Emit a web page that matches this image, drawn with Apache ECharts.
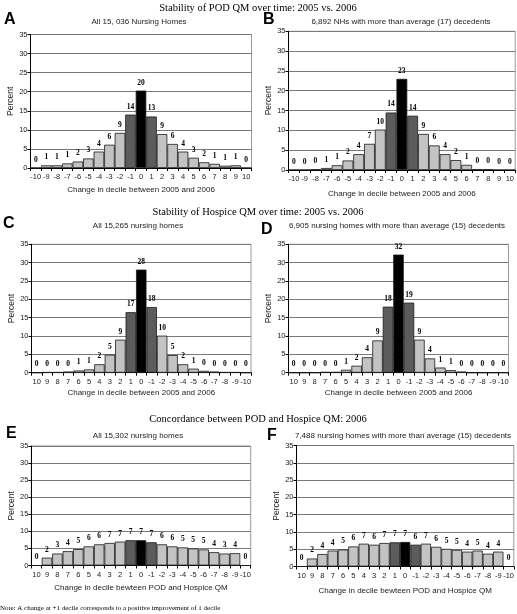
<!DOCTYPE html>
<html>
<head>
<meta charset="utf-8">
<script src="https://cdn.jsdelivr.net/npm/echarts@6/dist/echarts.min.js"></script>
<style>html,body{margin:0;padding:0;background:#fff}#c{width:517px;height:614px}</style>
</head>
<body>
<div id="c"></div>
<script>
// Categories
const catsPOD = ['-10','-9','-8','-7','-6','-5','-4','-3','-2','-1','0','1','2','3','4','5','6','7','8','9','10'];
const catsHosp = ['10','9','8','7','6','5','4','3','2','1','0','-1','-2','-3','-4','-5','-6','-7','-8','-9','-10'];

// Bar heights (percent)
const valsA = [0,0.7,0.7,1.2,1.7,2.5,4.3,6.1,9.2,14.0,20.3,13.5,8.9,6.3,4.3,2.7,1.5,1.1,0.6,0.7,0];
const valsB = [0,0,0.15,0.5,1.2,2.4,4.0,6.6,10.2,14.5,23.0,13.7,9.1,6.2,4.0,2.5,1.3,0.15,0.15,0,0];
const valsC = [0,0.15,0.15,0.3,0.6,0.9,2.3,4.9,9.0,16.5,28.1,17.9,10.1,4.8,2.3,1.1,0.5,0.3,0.15,0.15,0];
const valsD = [0,0,0,0.2,0.2,0.8,1.9,4.2,8.8,18.0,32.2,19.1,9.0,3.9,1.4,0.7,0.3,0,0,0,0];
const valsE = [0,2.3,3.5,4.2,4.8,5.6,6.2,6.6,7.0,7.4,7.4,6.8,6.2,5.6,5.3,5.0,4.7,3.9,3.5,3.6,0];
const valsF = [0,2.3,3.6,4.6,4.9,5.8,6.6,6.3,6.8,7.0,7.1,6.3,6.6,5.7,5.1,4.8,4.3,4.6,3.7,4.3,0];

// Printed labels
const labA = ['0','1','1','1','2','3','4','6','9','14','20','13','9','6','4','3','2','1','1','1','0'];
const labB = ['0','0','0','1','1','2','4','7','10','14','23','14','9','6','4','2','1','0','0','0','0'];
const labC = ['0','0','0','0','1','1','2','5','9','17','28','18','10','5','2','1','0','0','0','0','0'];
const labD = ['0','0','0','0','0','1','2','4','9','18','32','19','9','4','1','1','0','0','0','0','0'];
const labE = ['0','2','3','4','5','6','6','7','7','7','7','7','6','6','5','5','5','4','3','4','0'];
const labF = ['0','2','4','4','5','6','7','6','7','7','7','6','7','6','5','5','4','5','4','4','0'];

// Y ticks
const yMin = 0, yMax = 35, yStep = 5;

const SANS = 'Liberation Sans, Arial, sans-serif';
const SERIF = 'Liberation Serif, Times New Roman, serif';

const panels = [
  {cats: catsPOD, vals: valsA, labs: labA, grid:{left:30.5, top:34.5, width:221, height:133.5}, xName:'Change in decile between 2005 and 2006', xGap:18},
  {cats: catsPOD, vals: valsB, labs: labB, grid:{left:288.5, top:31.3, width:227, height:138.7}, xName:'Change in decile between 2005 and 2006', xGap:20},
  {cats: catsHosp, vals: valsC, labs: labC, grid:{left:31.5, top:244.3, width:219.5, height:128.4}, xName:'Change in decile between 2005 and 2006', xGap:16},
  {cats: catsHosp, vals: valsD, labs: labD, grid:{left:288.5, top:244.3, width:220, height:128.4}, xName:'Change in decile between 2005 and 2006', xGap:16},
  {cats: catsHosp, vals: valsE, labs: labE, grid:{left:31.3, top:446, width:219.4, height:119.5}, xName:'Change in decile bewteen POD and Hospice QM', xGap:18},
  {cats: catsHosp, vals: valsF, labs: labF, grid:{left:296.5, top:445.5, width:219, height:121}, xName:'Change in decile bewteen POD and Hospice QM', xGap:20}
];

function colorFor(cat){
  if (cat === '0') return '#000000';
  if (cat === '1' || cat === '-1') return '#5c5c5c';
  return '#c3c3c3';
}

const grids = [], xAxes = [], yAxes = [], series = [];
panels.forEach((p, i) => {
  grids.push(Object.assign({show:true, borderColor:'#9a9a9a', borderWidth:1, backgroundColor:'#fff'}, p.grid));
  xAxes.push({
    type:'category', gridIndex:i, data:p.cats,
    axisLine:{lineStyle:{color:'#000', width:1}},
    axisTick:{show:true, length:3, alignWithLabel:false, lineStyle:{color:'#000'}},
    axisLabel:{interval:0, fontSize:7.5, fontFamily:SANS, color:'#222', margin:5},
    name:p.xName, nameLocation:'middle', nameGap:p.xGap,
    nameTextStyle:{fontSize:8, fontFamily:SANS, color:'#222'}
  });
  yAxes.push({
    type:'value', gridIndex:i, min:yMin, max:yMax, interval:yStep,
    axisLine:{show:true, lineStyle:{color:'#000', width:1}},
    axisTick:{show:true, length:3, lineStyle:{color:'#000'}},
    axisLabel:{fontSize:7.5, fontFamily:SANS, color:'#222', margin:3},
    splitLine:{show:true, lineStyle:{color:'#7a7a7a', width:1}},
    name:'Percent', nameLocation:'middle', nameGap:13, nameRotate:90,
    nameTextStyle:{fontSize:8.5, fontFamily:SANS, color:'#222'}
  });
  series.push({
    type:'bar', xAxisIndex:i, yAxisIndex:i, barCategoryGap:'0%',
    data:p.vals.map((v, k) => ({
      value:v,
      itemStyle:{color:colorFor(p.cats[k]), borderColor:'#1a1a1a', borderWidth:0.8}
    })),
    label:{show:true, position:'top', distance:4, fontFamily:SERIF, fontWeight:'bold', fontSize:7.5, color:'#000',
      formatter:(prm) => p.labs[prm.dataIndex]},
    silent:true, animation:false
  });
});

const titles = [
  {text:'Stability of POD QM over time: 2005 vs. 2006', left:258, top:3, textAlign:'center'},
  {text:'Stability of Hospice QM over time: 2005 vs. 2006', left:258, top:207, textAlign:'center'},
  {text:'Concordance between POD and Hospice QM: 2006', left:258, top:414, textAlign:'center'}
].map(t => Object.assign(t, {textStyle:{fontFamily:SERIF, fontWeight:'normal', fontSize:10.5, color:'#000'}}));

const subs = [
  {text:'All 15, 036 Nursing Homes', left:139, top:18},
  {text:'6,892 NHs with more than average (17) decedents', left:401, top:18},
  {text:'All 15,265 nursing homes', left:138, top:222},
  {text:'6,905 nursing homes with more than average (15) decedents', left:397, top:222},
  {text:'All 15,302 nursing homes', left:138, top:432},
  {text:'7,488 nursing homes with more than average (15) decedents', left:403, top:432}
].map(t => Object.assign(t, {textAlign:'center', textStyle:{fontFamily:SANS, fontWeight:'normal', fontSize:8, color:'#222'}}));

const letters = [
  {text:'A', left:4, top:12},
  {text:'B', left:263, top:12},
  {text:'C', left:3, top:216},
  {text:'D', left:261, top:222},
  {text:'E', left:6, top:426},
  {text:'F', left:267, top:428}
].map(t => Object.assign(t, {textStyle:{fontFamily:SANS, fontWeight:'bold', fontSize:16, color:'#000'}}));

const note = {text:'Note: A change at +1 decile corresponds to a positive improvement of 1 decile', left:0, top:605,
  textStyle:{fontFamily:SERIF, fontWeight:'normal', fontSize:7, color:'#000'}};

const chart = echarts.init(document.getElementById('c'), null, {renderer:'canvas'});
chart.setOption({
  backgroundColor:'#fff',
  animation:false,
  title: titles.concat(subs, letters, [note]).map(t => Object.assign({padding:0}, t)),
  grid: grids,
  xAxis: xAxes,
  yAxis: yAxes,
  series: series
});
</script>
</body>
</html>
